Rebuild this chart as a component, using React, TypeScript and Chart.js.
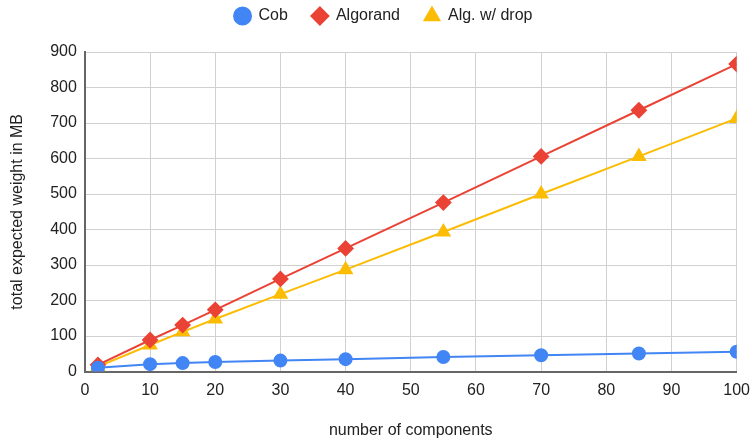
import React, { useEffect, useRef } from "react";
import { Chart, registerables } from "chart.js";
Chart.register(...registerables);

const components = [2, 10, 15, 20, 30, 40, 55, 70, 85, 100];
const cob = [11, 21, 24, 27, 31, 35, 41, 46, 51, 56];
const algorand = [19, 89, 131, 174, 261, 347, 476, 606, 736, 866];
const algDrop = [14, 75, 112, 148, 218, 287, 393, 500, 606, 713];

const FONT = "'Liberation Sans', Arial, sans-serif";

const legendSpacer = {
  id: "legendSpacer",
  beforeInit(chart: any) {
    const legend = chart.legend;
    if (!legend) return;
    const origFit = legend.fit;
    legend.fit = function () {
      origFit.call(this);
      this.height += 18;
    };
  },
};

export default function App() {
  const ref = useRef<HTMLCanvasElement>(null);
  useEffect(() => {
    document.body.style.margin = "0";
    const mk = (arr: number[]) => components.map((x, i) => ({ x, y: arr[i] }));
    const chart = new Chart(ref.current!, {
      type: "line",
      data: {
        datasets: [
          {
            label: "Cob",
            data: mk(cob),
            borderColor: "#4285F4",
            backgroundColor: "#4285F4",
            pointStyle: "circle",
            pointRadius: 6,
            borderWidth: 2,
          },
          {
            label: "Algorand",
            data: mk(algorand),
            borderColor: "#EA4335",
            backgroundColor: "#EA4335",
            pointStyle: "rectRot",
            pointRadius: 7,
            borderWidth: 2,
          },
          {
            label: "Alg. w/ drop",
            data: mk(algDrop),
            borderColor: "#FBBC04",
            backgroundColor: "#FBBC04",
            pointStyle: "triangle",
            pointRadius: 7,
            borderWidth: 2,
          },
        ],
      },
      plugins: [legendSpacer],
      options: {
        animation: false,
        responsive: true,
        maintainAspectRatio: false,
        layout: { padding: { left: 8, right: 0, top: -16, bottom: 0 } },
        plugins: {
          legend: {
            position: "top",
            labels: {
              usePointStyle: true,
              boxWidth: 16,
              boxHeight: 12,
              padding: 24,
              color: "#222",
              font: { family: FONT, size: 16 },
            },
          },
          tooltip: { enabled: false },
        },
        scales: {
          x: {
            type: "linear",
            min: 0,
            max: 100,
            ticks: { stepSize: 10, color: "#222", font: { family: FONT, size: 16 }, padding: 9 },
            grid: { color: "#d0d0d0", lineWidth: 1, drawTicks: false },
            border: { color: "#666", width: 2 },
            title: {
              display: true,
              text: "number of components",
              color: "#222",
              font: { family: FONT, size: 16 },
              padding: { top: 12, bottom: 3 },
            },
          },
          y: {
            min: 0,
            max: 900,
            ticks: { stepSize: 100, color: "#222", font: { family: FONT, size: 16 }, padding: 8 },
            grid: { color: "#d0d0d0", lineWidth: 1, drawTicks: false },
            border: { color: "#666", width: 2 },
            title: {
              display: true,
              text: "total expected weight in MB",
              color: "#222",
              font: { family: FONT, size: 16 },
              padding: { top: 0, bottom: 15 },
            },
          },
        },
      },
    });
    return () => chart.destroy();
  }, []);
  return (
    <div style={{ width: 750, height: 443, overflow: "hidden" }}>
      <div style={{ position: "relative", width: 759, height: 443 }}>
        <canvas ref={ref} />
      </div>
    </div>
  );
}
